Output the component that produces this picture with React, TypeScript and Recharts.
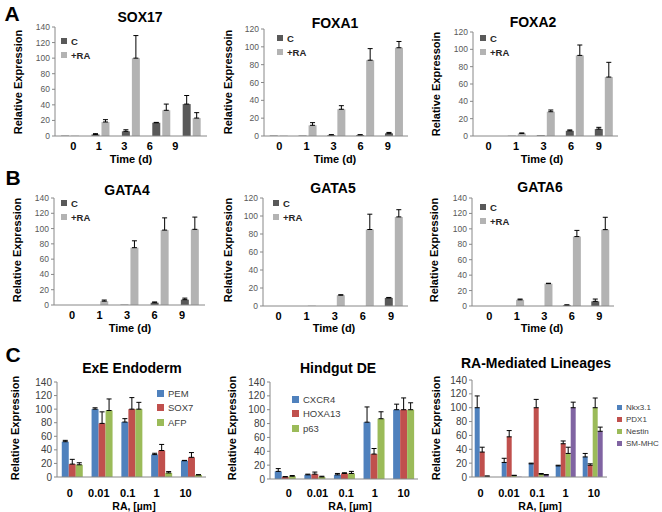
import { Bar, BarChart, ErrorBar, Legend, XAxis, YAxis } from "recharts";

const FONT = '"Liberation Sans", Arial, sans-serif';

const days = ["0", "1", "3", "6", "9"];
const doses = ["0", "0.01", "0.1", "1", "10"];
const ticks140 = [0, 20, 40, 60, 80, 100, 120, 140];
const ticks120 = [0, 20, 40, 60, 80, 100, 120];

const DARK = "#595959";
const LIGHT = "#b3b3b3";
const BLUE = "#4f81bd";
const RED = "#c0504d";
const GREEN = "#9bbb59";
const PURPLE = "#8064a2";

// panel A
const sox17C = [0.5, 2, 6, 17, 41];
const sox17CErr = [0, 1, 2, 0.5, 11];
const sox17RA = [0.5, 18, 100, 33, 23];
const sox17RAErr = [0, 3, 29, 8, 7];

const foxa1C = [0.5, 0.5, 1, 1, 3];
const foxa1CErr = [0, 0, 0.5, 0.5, 1];
const foxa1RA = [0.5, 12, 30, 85, 99];
const foxa1RAErr = [0, 3, 4, 13, 7];

const foxa2C = [0, 0.3, 0.8, 6, 8];
const foxa2CErr = [0, 0, 0, 1, 2];
const foxa2RA = [0, 3, 28, 93, 68];
const foxa2RAErr = [0, 0.5, 2, 12, 17];

// panel B
const gata4C = [0, 0, 0.5, 3, 7];
const gata4CErr = [0, 0, 0, 1, 2];
const gata4RA = [0, 5, 75, 98, 99];
const gata4RAErr = [0, 1.5, 9, 16, 16];

const gata5C = [0, 0, 0, 0, 9];
const gata5CErr = [0, 0, 0, 0, 0.5];
const gata5RA = [0, 0.5, 12, 85, 99];
const gata5RAErr = [0, 0, 0.5, 17, 8];

const gata6C = [0, 0, 0, 1, 6];
const gata6CErr = [0, 0, 0, 0.5, 3];
const gata6RA = [0, 8, 29, 90, 99];
const gata6RAErr = [0, 1, 0.5, 8, 16];

// panel C
const pem = [52, 100, 81, 33, 24];
const pemErr = [2, 2, 5, 2, 0.5];
const sox7 = [19, 79, 100, 39, 29];
const sox7Err = [7, 17, 17, 9, 7];
const afp = [18, 98, 100, 6, 3];
const afpErr = [3, 17, 10, 2, 0.5];

const cxcr4 = [11, 6, 6, 82, 100];
const cxcr4Err = [4, 1, 2, 22, 8];
const hoxa13 = [3, 7, 8, 36, 100];
const hoxa13Err = [0.5, 3, 1, 8, 17];
const p63 = [4, 3, 8, 87, 100];
const p63Err = [1, 1, 3, 10, 10];

const nkx31 = [100, 21, 19, 16, 29];
const nkx31Err = [17, 6, 1, 1, 5];
const pdx1 = [36, 58, 100, 48, 17];
const pdx1Err = [7, 9, 12, 4, 2];
const nestin = [1, 2, 4, 34, 100];
const nestinErr = [0.5, 0.5, 1, 9, 14];
const smmhc = [0, 0.5, 3, 100, 66];
const smmhcErr = [0, 0, 0.5, 8, 6];

type Series = { name: string; values: number[]; errors: number[]; color: string };
type Box = { left: number; top: number; right: number; bottom: number };

function toRows(cats: string[], series: Series[]) {
  return cats.map((cat, i) => {
    const row: Record<string, unknown> = { cat };
    series.forEach((s, k) => {
      row["v" + k] = s.values[i];
      row["e" + k] = s.errors[i] > 0 ? [0, s.errors[i]] : null;
    });
    return row;
  });
}

const YW = 30;
const MT = 6;
const MR = 4;
const XH = 26;

type LegendCfg = { x: number; y: number; row: number; sq: number; size: number; weight: number; color: string };

function Panel(props: {
  cats: string[];
  series: Series[];
  box: Box;
  ticks: number[];
  legend: LegendCfg;
  catGap: string;
  barGap: number;
  tickSize: number;
  tickColor: string;
  catMargin: number;
  labelK?: number;
  labelDx?: number;
}) {
  const { cats, series, box, ticks, legend, catGap, barGap, tickSize, tickColor, catMargin } = props;
  const labelK = props.labelK ?? 1;
  const labelDx = props.labelDx ?? 0;
  const ox = box.left - YW;
  const oy = box.top - MT;
  const w = box.right - box.left + YW + MR;
  const h = box.bottom - box.top + MT + XH;
  // labels in the original sit a little off the category centres
  const x0 = YW + (box.right - box.left) / cats.length / 2;
  const names = series.map((s) => s.name);
  return (
    <div style={{ position: "absolute", left: ox, top: oy }}>
      <BarChart
        width={w}
        height={h}
        data={toRows(cats, series)}
        margin={{ top: MT, right: MR, left: 0, bottom: 0 }}
        barCategoryGap={catGap}
        barGap={barGap}
      >
        <XAxis
          dataKey="cat"
          height={XH}
          interval={0}
          tickLine={false}
          tickMargin={catMargin}
          axisLine={{ stroke: "#888888" }}
          tick={(p: any) => (
            <text
              x={x0 + (p.x - x0) * labelK + labelDx}
              y={p.y}
              dy="0.71em"
              textAnchor="middle"
              fontSize={11}
              fontWeight={700}
              fill="#000"
              fontFamily={FONT}
            >
              {p.payload.value}
            </text>
          )}
        />
        <YAxis
          width={YW}
          domain={[0, ticks[ticks.length - 1]]}
          ticks={ticks}
          interval={0}
          tickSize={3}
          tickMargin={2}
          axisLine={{ stroke: "#888888" }}
          tickLine={{ stroke: "#888888" }}
          tick={{ fontSize: tickSize, fill: tickColor, fontFamily: FONT }}
        />
        <Legend
          layout="vertical"
          align="center"
          verticalAlign="middle"
          itemSorter={(item: any) => names.indexOf(item.value)}
          wrapperStyle={{ left: legend.x - ox, top: legend.y - oy - legend.row / 2, width: "auto", height: "auto" }}
          content={({ payload }) => (
            <div style={{ fontFamily: FONT, fontSize: legend.size, fontWeight: legend.weight, color: legend.color }}>
              {[...(payload || [])]
                .sort((a: any, b: any) => names.indexOf(a.value) - names.indexOf(b.value))
                .map((p: any, i) => (
                  <div key={i} style={{ display: "flex", alignItems: "center", height: legend.row, whiteSpace: "nowrap" }}>
                    <span style={{ display: "inline-block", width: legend.sq, height: legend.sq, background: p.color, marginRight: 4 }} />
                    <span>{p.value}</span>
                  </div>
                ))}
            </div>
          )}
        />
        {series.map((s, k) => (
          <Bar key={k} dataKey={"v" + k} name={s.name} fill={s.color} isAnimationActive={false}>
            <ErrorBar dataKey={"e" + k} width={2.5} stroke="#000" strokeWidth={1} direction="y" />
          </Bar>
        ))}
      </BarChart>
    </div>
  );
}

function Txt(props: { x: number; y: number; size: number; weight?: number; rotate?: boolean; children: React.ReactNode }) {
  const { x, y, size, weight = 700, rotate = false, children } = props;
  return (
    <div
      style={{
        position: "absolute",
        left: x,
        top: y,
        transform: `translate(-50%, -50%)${rotate ? " rotate(-90deg)" : ""}`,
        fontFamily: FONT,
        fontSize: size,
        fontWeight: weight,
        color: "#000",
        whiteSpace: "nowrap",
        lineHeight: 1,
      }}
    >
      {children}
    </div>
  );
}

const grayPair = (c: number[], ce: number[], ra: number[], rae: number[]): Series[] => [
  { name: "C", values: c, errors: ce, color: DARK },
  { name: "+RA", values: ra, errors: rae, color: LIGHT },
];

const abLegend = (x: number, y: number): LegendCfg => ({ x, y, row: 14, sq: 6, size: 9.5, weight: 700, color: "#262626" });
const cLegend = (x: number, y: number): LegendCfg => ({ x, y, row: 14.5, sq: 7, size: 9.5, weight: 400, color: "#404040" });

export default function App() {
  return (
    <div style={{ position: "absolute", left: 0, top: 0, width: 662, height: 512, background: "#fff", overflow: "hidden" }}>
      <Txt x={12} y={13} size={21}>A</Txt>
      <Txt x={13} y={177} size={21}>B</Txt>
      <Txt x={13} y={354} size={21}>C</Txt>

      <Panel cats={days} series={grayPair(sox17C, sox17CErr, sox17RA, sox17RAErr)} box={{ left: 55, top: 27, right: 207, bottom: 136 }}
        ticks={ticks140} legend={abLegend(61, 41)} catGap="20%" barGap={2} tickSize={8.5} tickColor="#595959" catMargin={0}
        labelK={0.84} labelDx={3} />
      <Panel cats={days} series={grayPair(foxa1C, foxa1CErr, foxa1RA, foxa1RAErr)} box={{ left: 264, top: 29, right: 408, bottom: 136 }}
        ticks={ticks120} legend={abLegend(277, 38)} catGap="20%" barGap={2} tickSize={8.5} tickColor="#595959" catMargin={0}
        labelK={0.94} labelDx={1} />
      <Panel cats={days} series={grayPair(foxa2C, foxa2CErr, foxa2RA, foxa2RAErr)} box={{ left: 473, top: 32, right: 618, bottom: 136 }}
        ticks={ticks120} legend={abLegend(480, 38)} catGap="20%" barGap={2} tickSize={8.5} tickColor="#595959" catMargin={0}
        labelK={0.95} labelDx={1} />

      <Panel cats={days} series={grayPair(gata4C, gata4CErr, gata4RA, gata4RAErr)} box={{ left: 54, top: 198, right: 205, bottom: 305 }}
        ticks={ticks140} legend={abLegend(61, 203)} catGap="20%" barGap={2} tickSize={8.5} tickColor="#595959" catMargin={0}
        labelK={0.91} labelDx={3} />
      <Panel cats={days} series={grayPair(gata5C, gata5CErr, gata5RA, gata5RAErr)} box={{ left: 263, top: 198, right: 408, bottom: 306 }}
        ticks={ticks120} legend={abLegend(273, 203)} catGap="20%" barGap={2} tickSize={8.5} tickColor="#595959" catMargin={0}
        labelK={0.97} labelDx={1} />
      <Panel cats={days} series={grayPair(gata6C, gata6CErr, gata6RA, gata6RAErr)} box={{ left: 472, top: 198, right: 614, bottom: 306 }}
        ticks={ticks140} legend={abLegend(480, 207)} catGap="20%" barGap={2} tickSize={8.5} tickColor="#595959" catMargin={0}
        labelK={0.97} labelDx={3} />

      <Panel cats={doses} box={{ left: 57, top: 382, right: 206, bottom: 477 }} ticks={ticks140}
        series={[
          { name: "PEM", values: pem, errors: pemErr, color: BLUE },
          { name: "SOX7", values: sox7, errors: sox7Err, color: RED },
          { name: "AFP", values: afp, errors: afpErr, color: GREEN },
        ]}
        legend={cLegend(157, 393)} catGap="16%" barGap={0} tickSize={10} tickColor="#404040" catMargin={6}
        labelK={0.97} labelDx={-2} />
      <Panel cats={doses} box={{ left: 270, top: 382, right: 418, bottom: 479 }} ticks={ticks140}
        series={[
          { name: "CXCR4", values: cxcr4, errors: cxcr4Err, color: BLUE },
          { name: "HOXA13", values: hoxa13, errors: hoxa13Err, color: RED },
          { name: "p63", values: p63, errors: p63Err, color: GREEN },
        ]}
        legend={cLegend(292, 399)} catGap="16%" barGap={0} tickSize={10} tickColor="#404040" catMargin={4}
        labelK={0.97} labelDx={4} />
      <Panel cats={doses} box={{ left: 472, top: 380, right: 607, bottom: 477 }} ticks={ticks140}
        series={[
          { name: "Nkx3.1", values: nkx31, errors: nkx31Err, color: BLUE },
          { name: "PDX1", values: pdx1, errors: pdx1Err, color: RED },
          { name: "Nestin", values: nestin, errors: nestinErr, color: GREEN },
          { name: "SM-MHC", values: smmhc, errors: smmhcErr, color: PURPLE },
        ]}
        legend={{ x: 617, y: 407, row: 12, sq: 5, size: 8, weight: 400, color: "#404040" }}
        catGap="10%" barGap={0} tickSize={10} tickColor="#404040" catMargin={6}
        labelK={1.05} labelDx={-5} />

      <Txt x={140} y={17} size={14}>SOX17</Txt>
      <Txt x={335} y={23} size={14}>FOXA1</Txt>
      <Txt x={533} y={22} size={14}>FOXA2</Txt>
      <Txt x={127} y={190} size={14}>GATA4</Txt>
      <Txt x={333} y={188} size={14}>GATA5</Txt>
      <Txt x={540} y={187} size={14}>GATA6</Txt>
      <Txt x={132} y={368} size={14}>ExE Endoderm</Txt>
      <Txt x={338} y={368} size={14}>Hindgut DE</Txt>
      <Txt x={536} y={363} size={14}>RA-Mediated Lineages</Txt>

      <Txt x={18} y={82} size={11} rotate>Relative Expression</Txt>
      <Txt x={228} y={82} size={11} rotate>Relative Expressoin</Txt>
      <Txt x={436} y={84} size={11} rotate>Relative Expressoin</Txt>
      <Txt x={17} y={250} size={11} rotate>Relative Expression</Txt>
      <Txt x={228} y={250} size={11} rotate>Relative Expression</Txt>
      <Txt x={434} y={250} size={11} rotate>Relative Expression</Txt>
      <Txt x={15} y={428} size={11} rotate>Relative Expression</Txt>
      <Txt x={232} y={428} size={11} rotate>Relative Expression</Txt>
      <Txt x={436} y={428} size={11} rotate>Relative Expression</Txt>

      <Txt x={131} y={159} size={11}>Time (d)</Txt>
      <Txt x={335} y={159} size={11}>Time (d)</Txt>
      <Txt x={542} y={159} size={11}>Time (d)</Txt>
      <Txt x={130} y={328} size={11}>Time (d)</Txt>
      <Txt x={334} y={328} size={11}>Time (d)</Txt>
      <Txt x={542} y={328} size={11}>Time (d)</Txt>
      <Txt x={134} y={506} size={10.5}>RA, [µm]</Txt>
      <Txt x={350} y={506} size={10.5}>RA, [µm]</Txt>
      <Txt x={540} y={506} size={10.5}>RA, [µm]</Txt>
    </div>
  );
}
